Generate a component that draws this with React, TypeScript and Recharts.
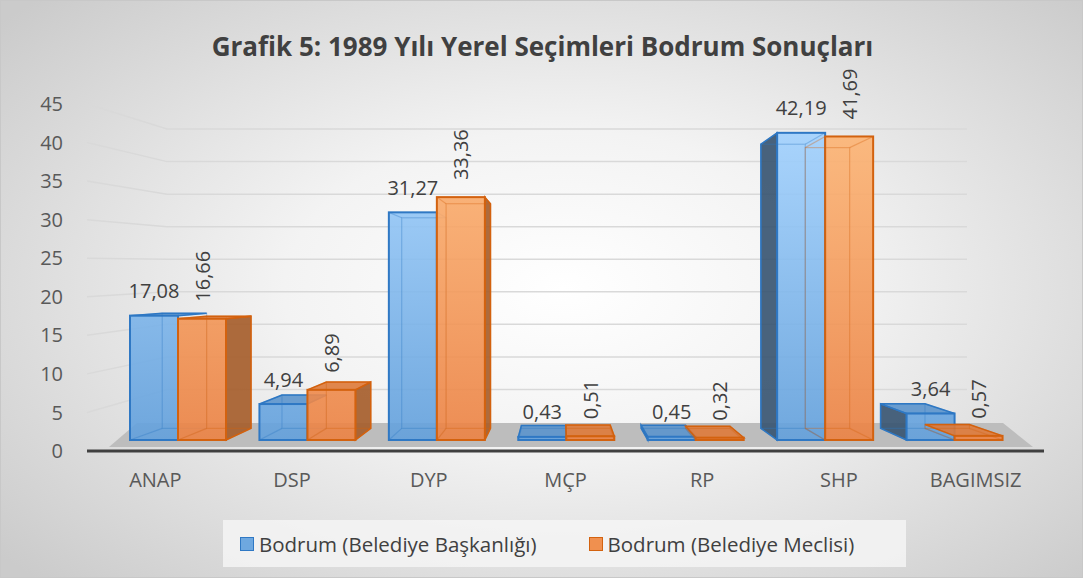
import { Bar, BarChart, LabelList, ReferenceArea, ReferenceLine, XAxis, YAxis } from 'recharts'

const categories = ['ANAP', 'DSP', 'DYP', 'MÇP', 'RP', 'SHP', 'BAGIMSIZ']
const baskanlik = [17.08, 4.94, 31.27, 0.43, 0.45, 42.19, 3.64]
const meclis = [16.66, 6.89, 33.36, 0.51, 0.32, 41.69, 0.57]
const yTicks = [0, 5, 10, 15, 20, 25, 30, 35, 40, 45]
const wallTicks = [5, 10, 15, 20, 25, 30, 35, 40, 45]

const data = categories.map((name, i) => ({ name, baskanlik: baskanlik[i], meclis: meclis[i] }))

// layout / fake perspective
const W = 1083
const H = 578
const PLOT_TOP = 104
const PLOT_BOTTOM = 451
const VPX = 560
const VPY = 285
const K = 0.925
const FONT = '"Open Sans", sans-serif'

const fmt = (v: number) => v.toFixed(2).replace('.', ',')

const px = (x: number) => VPX + (x - VPX) * K
const py = (y: number) => VPY + (y - VPY) * K

type Look = { front: string; stroke: string; side: string; top: string }
const BLUE: Look = { front: 'url(#gBlue)', stroke: '#2f78c4', side: '#3a5672', top: '#5b93cc' }
const ORANGE: Look = { front: 'url(#gOrange)', stroke: '#d3620f', side: '#a65e2c', top: '#de7a3a' }

function makeBar(look: Look, outer: 'left' | 'right') {
  return (props: any) => {
    const x = Number(props.x)
    const y = Number(props.y)
    const w = Number(props.width)
    const h = Number(props.height)
    if (!w || isNaN(y)) return <g />
    const fl = x
    const fr = x + w
    const ft = y
    const fb = y + h
    const bl = px(fl)
    const br = px(fr)
    const bt = py(ft)
    const bb = py(fb)
    const cx = x + w / 2
    let side = null
    if (outer === 'right' && cx < VPX) {
      side = `${fr},${ft} ${br},${bt} ${br},${bb} ${fr},${fb}`
    } else if (outer === 'left' && cx > VPX) {
      side = `${fl},${ft} ${bl},${bt} ${bl},${bb} ${fl},${fb}`
    }
    const top = `${fl},${ft} ${fr},${ft} ${br},${bt} ${bl},${bt}`
    return (
      <g>
        {side && <polygon points={side} fill={look.side} fillOpacity={0.92} stroke={look.stroke} strokeWidth={1.5} />}
        {ft > VPY && <polygon points={top} fill={look.top} fillOpacity={0.9} stroke={look.stroke} strokeWidth={1.5} />}
        <rect x={fl} y={ft} width={w} height={h} fill={look.front} fillOpacity={0.9} stroke={look.stroke} strokeWidth={2} />
        <g stroke={look.stroke} strokeOpacity={0.35} strokeWidth={1.2} fill="none">
          <rect x={bl} y={Math.min(bt, bb)} width={br - bl} height={Math.abs(bb - bt)} />
          <line x1={fl} y1={ft} x2={bl} y2={bt} />
          <line x1={fr} y1={ft} x2={br} y2={bt} />
          <line x1={fl} y1={fb} x2={bl} y2={bb} />
          <line x1={fr} y1={fb} x2={br} y2={bb} />
        </g>
      </g>
    )
  }
}

const BlueLabel = (props: any) => {
  const cx = Number(props.x) + Number(props.width) / 2
  return (
    <text x={cx} y={Number(props.y) - 25} textAnchor="middle" dominantBaseline="central" fontSize={20} fontFamily={FONT} fill="#404040">
      {fmt(Number(props.value))}
    </text>
  )
}

const OrangeLabel = (props: any) => {
  const cx = Number(props.x) + Number(props.width) / 2
  const y = Number(props.y) - 17
  return (
    <text transform={`translate(${cx},${y}) rotate(-90)`} textAnchor="start" dominantBaseline="central" fontSize={20} fontFamily={FONT} fill="#404040">
      {fmt(Number(props.value))}
    </text>
  )
}

function wallLine(v: number) {
  return (p: any) => {
    const x1 = Number(p.x1)
    const x2 = Number(p.x2)
    const y = Number(p.y1)
    const fy = PLOT_BOTTOM - (v * (PLOT_BOTTOM - PLOT_TOP)) / 45
    return <path d={`M${x1},${fy} L${x1 + 80},${y} L${x2 - 77},${y}`} stroke="#d9d9d9" strokeWidth={1.5} fill="none" />
  }
}

const Floor = (p: any) => {
  const x = Number(p.x)
  const y = Number(p.y)
  const w = Number(p.width)
  const h = Number(p.height)
  const pts = `${x + 22},${y + h} ${x + w - 11},${y + h} ${x + w - 41},${y} ${x + 50},${y}`
  return <polygon points={pts} fill="#bdbdbd" />
}

export default function App() {
  return (
    <div
      style={{
        position: 'absolute',
        left: 0,
        top: 0,
        width: W,
        height: H,
        boxSizing: 'border-box',
        border: '1px solid #c8c8c8',
        background: 'radial-gradient(ellipse 68% 72% at 52% 50%, #ffffff 0%, #f3f3f3 38%, #cbcbcb 100%)',
        fontFamily: FONT,
        overflow: 'hidden',
      }}
    >
      <svg width={0} height={0} style={{ position: 'absolute' }}>
        <defs>
          <linearGradient id="gBlue" gradientUnits="userSpaceOnUse" x1={0} y1={120} x2={0} y2={440}>
            <stop offset="0" stopColor="#a4d3ff" />
            <stop offset="1" stopColor="#62a0dc" />
          </linearGradient>
          <linearGradient id="gOrange" gradientUnits="userSpaceOnUse" x1={0} y1={120} x2={0} y2={440}>
            <stop offset="0" stopColor="#fdb676" />
            <stop offset="1" stopColor="#ec8243" />
          </linearGradient>
        </defs>
      </svg>
      <div
        style={{
          position: 'absolute',
          top: 27,
          left: 0,
          width: W,
          textAlign: 'center',
          fontSize: 26,
          fontWeight: 700,
          color: '#404040',
          lineHeight: '36px',
        }}
      >
        Grafik 5: 1989 Yılı Yerel Seçimleri Bodrum Sonuçları
      </div>
      <div style={{ position: 'absolute', left: -1, top: -1 }}>
        <BarChart
          width={W}
          height={H}
          data={data}
          margin={{ top: PLOT_TOP, right: 39, left: 27, bottom: 87 }}
          barSize={48}
          barGap={0}
        >
          <XAxis
            xAxisId="lab"
            dataKey="name"
            height={40}
            axisLine={{ stroke: '#404040', strokeWidth: 3 }}
            tickLine={false}
            tickMargin={16}
            tick={{ fill: '#595959', fontSize: 20, fontFamily: FONT }}
          />
          <XAxis xAxisId="bars" dataKey="name" hide height={0} padding={{ left: 26, right: 25 }} />
          <YAxis
            yAxisId="left"
            width={60}
            domain={[0, 45]}
            ticks={yTicks}
            allowDataOverflow
            axisLine={false}
            tickLine={false}
            tickMargin={18}
            tick={{ fill: '#595959', fontSize: 20, fontFamily: FONT }}
          />
          <YAxis yAxisId="bar" hide width={0} domain={[-1.51, 46.15]} allowDataOverflow />
          <YAxis yAxisId="back" hide width={0} domain={[-4.45, 48.85]} allowDataOverflow />
          {wallTicks.map((v) => (
            <ReferenceLine key={v} xAxisId="lab" yAxisId="back" y={v} zIndex={-60} shape={wallLine(v)} />
          ))}
          <ReferenceArea xAxisId="lab" yAxisId="bar" y1={-0.96} y2={2.34} zIndex={-50} shape={Floor} />
          <Bar
            xAxisId="bars"
            yAxisId="bar"
            dataKey="baskanlik"
            name="Bodrum (Belediye Başkanlığı)"
            shape={makeBar(BLUE, 'left')}
            isAnimationActive={false}
          >
            <LabelList dataKey="baskanlik" content={BlueLabel} />
          </Bar>
          <Bar
            xAxisId="bars"
            yAxisId="bar"
            dataKey="meclis"
            name="Bodrum (Belediye Meclisi)"
            shape={makeBar(ORANGE, 'right')}
            isAnimationActive={false}
          >
            <LabelList dataKey="meclis" content={OrangeLabel} />
          </Bar>
        </BarChart>
      </div>
      <div
        style={{
          position: 'absolute',
          left: 222,
          top: 519,
          width: 683,
          height: 47,
          background: 'rgba(245,245,245,0.85)',
          display: 'flex',
          alignItems: 'center',
          fontSize: 20.5,
          color: '#404040',
        }}
      >
        <span style={{ width: 14, height: 14, marginLeft: 17, marginRight: 5, background: '#6ea8e0', border: '1.5px solid #2f78c4', boxSizing: 'border-box' }} />
        <span>Bodrum (Belediye Başkanlığı)</span>
        <span style={{ width: 14, height: 14, marginLeft: 52, marginRight: 5, background: '#f0904f', border: '1.5px solid #d3620f', boxSizing: 'border-box' }} />
        <span>Bodrum (Belediye Meclisi)</span>
      </div>
    </div>
  )
}
